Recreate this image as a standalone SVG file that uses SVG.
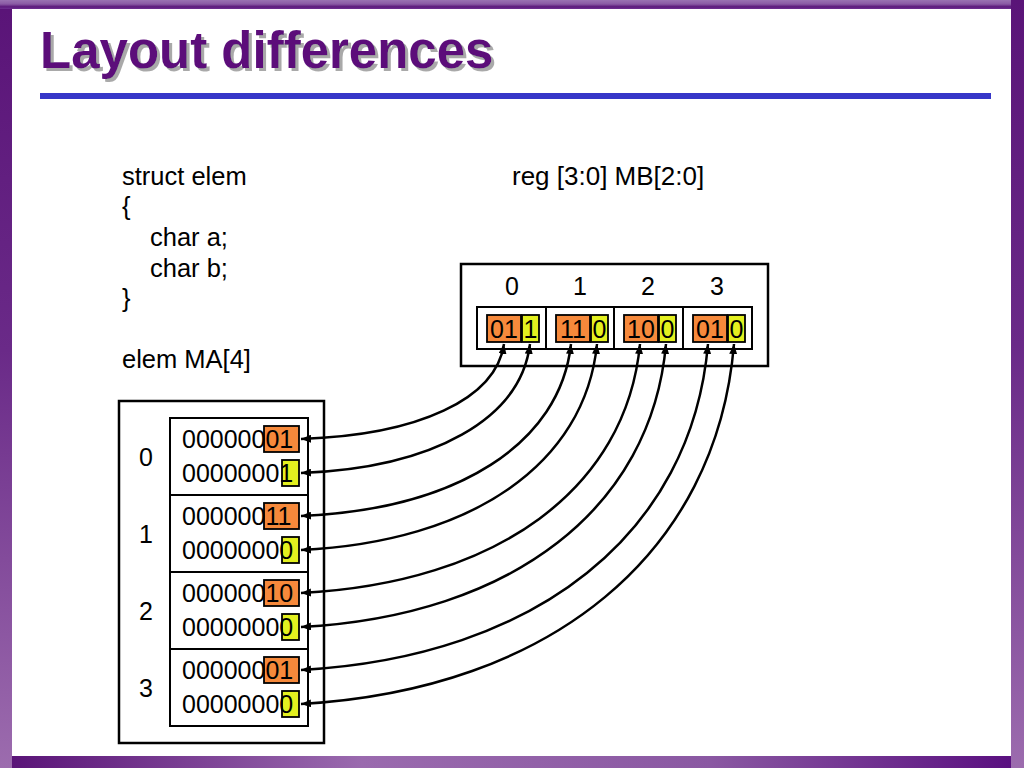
<svg xmlns="http://www.w3.org/2000/svg" width="1024" height="768" viewBox="0 0 1024 768">
<defs>
<linearGradient id="gTop" x1="0" y1="0" x2="0" y2="1">
<stop offset="0" stop-color="#9a72b2"/>
<stop offset="0.45" stop-color="#8a5aa4"/>
<stop offset="0.75" stop-color="#5c1a7c"/>
<stop offset="1" stop-color="#6e3090"/>
</linearGradient>
<linearGradient id="gSide" x1="0" y1="0" x2="0" y2="1">
<stop offset="0" stop-color="#5a1478"/>
<stop offset="0.45" stop-color="#6a2a88"/>
<stop offset="1" stop-color="#9c6cae"/>
</linearGradient>
<linearGradient id="gBot" x1="0" y1="0" x2="1" y2="0">
<stop offset="0" stop-color="#5a1478"/>
<stop offset="0.35" stop-color="#9a6aae"/>
<stop offset="0.7" stop-color="#8a58a2"/>
<stop offset="1" stop-color="#5a1080"/>
</linearGradient>
<filter id="shadow" x="-5%" y="-20%" width="110%" height="150%">
<feFlood flood-color="#a9a9a9" result="f"/>
<feComposite in="f" in2="SourceAlpha" operator="in" result="s"/>
<feOffset in="s" dx="3" dy="3" result="o"/>
<feMerge><feMergeNode in="o"/><feMergeNode in="SourceGraphic"/></feMerge>
</filter>
<marker id="ah" viewBox="0 0 10 8" markerWidth="10" markerHeight="8" refX="10" refY="4" orient="auto-start-reverse" markerUnits="userSpaceOnUse">
<path d="M0,0 L10,4 L0,8 z" fill="#000"/>
</marker>
</defs>
<style>
.t{font-family:"Liberation Sans",Arial,Helvetica,sans-serif;font-size:25px;fill:#000}
.big{font-size:25.5px}
.c{text-anchor:middle}
.box{fill:#fff;stroke:#000;stroke-width:2.5}
.ibox{fill:#fff;stroke:#000;stroke-width:2}
.or{fill:#f6893b;stroke:#000;stroke-width:1.8}
.ye{fill:#e3f01f;stroke:#000;stroke-width:1.8}
.con{fill:none;stroke:#000;stroke-width:2.5;marker-start:url(#ah);marker-end:url(#ah)}
.title{font-family:"Liberation Sans",Arial,Helvetica,sans-serif;font-size:51px;font-weight:bold;fill:#5b0f7a}
</style>
<rect x="0" y="0" width="1024" height="768" fill="#fff"/>
<g id="frame">
<rect x="0" y="0" width="1011" height="9" fill="url(#gTop)"/>
<rect x="0" y="9" width="12" height="759" fill="url(#gSide)"/>
<rect x="1011" y="0" width="13" height="768" fill="url(#gSide)"/>
<rect x="12" y="756" width="999" height="12" fill="url(#gBot)"/>
</g>
<g id="title">
<text class="title" x="40" y="68" filter="url(#shadow)">Layout differences</text>
<rect x="40" y="93" width="951" height="6" fill="#3636c8"/>
</g>
<g id="code">
<text class="t big" x="122" y="185">struct elem</text>
<text class="t big" x="122" y="215">{</text>
<text class="t big" x="150" y="246">char a;</text>
<text class="t big" x="150" y="277">char b;</text>
<text class="t big" x="122" y="307">}</text>
<text class="t big" x="122" y="368">elem MA[4]</text>
</g>
<g id="reg">
<text class="t" x="512" y="185" style="font-size:26px">reg [3:0] MB[2:0]</text>
<rect class="box" x="461" y="264" width="307" height="102"/>
<text class="t c" x="512" y="295">0</text>
<text class="t c" x="580" y="295">1</text>
<text class="t c" x="648" y="295">2</text>
<text class="t c" x="717" y="295">3</text>
<rect class="ibox" x="477" y="307" width="69" height="42"/>
<rect class="ibox" x="546" y="307" width="68" height="42"/>
<rect class="ibox" x="614" y="307" width="69" height="42"/>
<rect class="ibox" x="683" y="307" width="69" height="42"/>
<rect class="or" x="487" y="315" width="34" height="27"/>
<rect class="ye" x="522" y="315" width="17" height="27"/>
<text class="t c" x="504" y="338">01</text>
<text class="t c" x="530.5" y="338">1</text>
<rect class="or" x="556" y="315" width="34" height="27"/>
<rect class="ye" x="591" y="315" width="17" height="27"/>
<text class="t c" x="573" y="338">11</text>
<text class="t c" x="599.5" y="338">0</text>
<rect class="or" x="624" y="315" width="34" height="27"/>
<rect class="ye" x="659" y="315" width="17" height="27"/>
<text class="t c" x="641" y="338">10</text>
<text class="t c" x="667.5" y="338">0</text>
<rect class="or" x="693" y="315" width="34" height="27"/>
<rect class="ye" x="728" y="315" width="17" height="27"/>
<text class="t c" x="710" y="338">01</text>
<text class="t c" x="736.5" y="338">0</text>
</g>
<g id="mem">
<rect class="box" x="119" y="401" width="205" height="342"/>
<text class="t c" x="146" y="466">0</text>
<text class="t c" x="146" y="543">1</text>
<text class="t c" x="146" y="620">2</text>
<text class="t c" x="146" y="697">3</text>
<rect class="ibox" x="170" y="418" width="138" height="77"/>
<rect class="ibox" x="170" y="495" width="138" height="77"/>
<rect class="ibox" x="170" y="572" width="138" height="77"/>
<rect class="ibox" x="170" y="649" width="138" height="77"/>
</g>
<g id="elem0">
<rect class="or" x="264" y="426" width="35" height="26"/>
<rect class="ye" x="282" y="460" width="17" height="26"/>
<text class="t" x="182" y="448">00000001</text>
<text class="t" x="182" y="482">00000001</text>
</g>
<g id="elem1">
<rect class="or" x="264" y="503" width="35" height="26"/>
<rect class="ye" x="282" y="537" width="17" height="26"/>
<text class="t" x="182" y="525">00000011</text>
<text class="t" x="182" y="559">00000000</text>
</g>
<g id="elem2">
<rect class="or" x="264" y="580" width="35" height="26"/>
<rect class="ye" x="282" y="614" width="17" height="26"/>
<text class="t" x="182" y="602">00000010</text>
<text class="t" x="182" y="636">00000000</text>
</g>
<g id="elem3">
<rect class="or" x="264" y="657" width="35" height="26"/>
<rect class="ye" x="282" y="691" width="17" height="26"/>
<text class="t" x="182" y="679">00000001</text>
<text class="t" x="182" y="713">00000000</text>
</g>
<g id="connectors">
<path class="con" d="M504,344 C495.9,399.1 418.7,435.2 301,439"/>
<path class="con" d="M530,344 C520.8,418.8 433.8,467.8 301,473"/>
<path class="con" d="M571,344 C560.2,443.8 457.6,509.1 301,516"/>
<path class="con" d="M597,344 C585.2,463.5 472.7,541.8 301,550"/>
<path class="con" d="M640,344 C626.4,488.4 497.6,583 301,593"/>
<path class="con" d="M666,344 C651.4,508.1 512.7,615.7 301,627"/>
<path class="con" d="M708,344 C691.7,533.1 537.1,657 301,670"/>
<path class="con" d="M734,344 C716.7,552.8 552.1,689.6 301,704"/>
</g>
</svg>
